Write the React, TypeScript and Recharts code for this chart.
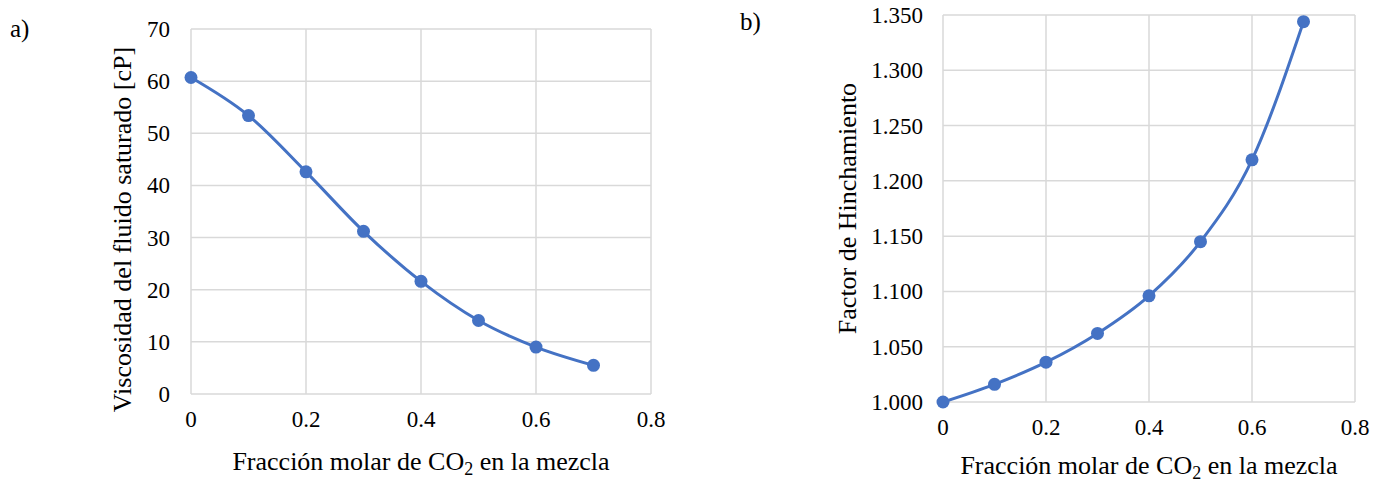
import { LineChart, Line, XAxis, YAxis, CartesianGrid } from 'recharts';

const fraccion = [0, 0.1, 0.2, 0.3, 0.4, 0.5, 0.6, 0.7];
const viscosidad = [60.7, 53.4, 42.6, 31.2, 21.6, 14.1, 9.0, 5.5];
const hinchamiento = [1.0, 1.016, 1.036, 1.062, 1.096, 1.145, 1.219, 1.344];

const xTicks = [0, 0.2, 0.4, 0.6, 0.8];
const viscTicks = [0, 10, 20, 30, 40, 50, 60, 70];
const hinchTicks = [1.0, 1.05, 1.1, 1.15, 1.2, 1.25, 1.3, 1.35];

const viscData = fraccion.map((x, i) => ({ x, y: viscosidad[i] }));
const hinchData = fraccion.map((x, i) => ({ x, y: hinchamiento[i] }));

const FONT = '"Liberation Serif", "Times New Roman", serif';
const BLUE = '#4472C4';

// custom ticks so the serif font actually sticks
function XTick({ x, y, payload }: any) {
  return (
    <text x={x} y={y} dy={17} textAnchor="middle" fontSize={23} fontFamily={FONT} fill="#000">
      {String(payload.value)}
    </text>
  );
}

function YTick({ x, y, payload, digits }: any) {
  const label = digits ? Number(payload.value).toFixed(digits) : String(payload.value);
  return (
    <text x={x} y={y} dy={8} textAnchor="end" fontSize={23} fontFamily={FONT} fill="#000">
      {label}
    </text>
  );
}

function XTitle({ viewBox, dy }: any) {
  const cx = viewBox.x + viewBox.width / 2;
  return (
    <text x={cx} y={viewBox.y + dy} textAnchor="middle" fontSize={26} fontFamily={FONT} fill="#000">
      Fracción molar de CO
      <tspan dy={5} fontSize={18}>2</tspan>
      <tspan dy={-5}> en la mezcla</tspan>
    </text>
  );
}

function YTitle({ viewBox, text, bx, shift }: any) {
  const cy = viewBox.y + viewBox.height / 2 + shift;
  return (
    <text
      x={bx}
      y={cy}
      textAnchor="middle"
      fontSize={26}
      fontFamily={FONT}
      fill="#000"
      transform={`rotate(-90, ${bx}, ${cy})`}
    >
      {text}
    </text>
  );
}

export default function App() {
  return (
    <div style={{ position: 'absolute', left: 0, top: 0, width: 1383, height: 482, background: '#fff', fontFamily: FONT }}>
      <span style={{ position: 'absolute', left: 10, top: 14, fontSize: 25, lineHeight: '30px' }}>a)</span>
      <span style={{ position: 'absolute', left: 740, top: 7, fontSize: 25, lineHeight: '30px' }}>b)</span>

      <div style={{ position: 'absolute', left: 0, top: 0 }}>
        <LineChart width={700} height={482} data={viscData} margin={{ top: 29, right: 49, bottom: 0, left: 0 }}>
          <CartesianGrid stroke="#d9d9d9" strokeWidth={1.5} />
          <XAxis
            dataKey="x"
            type="number"
            domain={[0, 0.8]}
            ticks={xTicks}
            axisLine={false}
            tickLine={false}
            tickMargin={10}
            height={88}
            tick={<XTick />}
            label={<XTitle dy={76} />}
          />
          <YAxis
            type="number"
            domain={[0, 70]}
            ticks={viscTicks}
            axisLine={false}
            tickLine={false}
            tickMargin={15}
            width={191}
            tick={<YTick />}
            label={<YTitle text="Viscosidad del fluido saturado [cP]" bx={131} shift={18} />}
          />
          <Line
            type="monotone"
            dataKey="y"
            stroke={BLUE}
            strokeWidth={3}
            dot={{ r: 6.5, fill: BLUE, stroke: BLUE, strokeWidth: 0 }}
            isAnimationActive={false}
          />
        </LineChart>
      </div>

      <div style={{ position: 'absolute', left: 700, top: 0 }}>
        <LineChart width={683} height={482} data={hinchData} margin={{ top: 15, right: 28, bottom: 0, left: 0 }}>
          <CartesianGrid stroke="#d9d9d9" strokeWidth={1.5} />
          <XAxis
            dataKey="x"
            type="number"
            domain={[0, 0.8]}
            ticks={xTicks}
            axisLine={false}
            tickLine={false}
            tickMargin={10}
            height={80}
            tick={<XTick />}
            label={<XTitle dy={72} />}
          />
          <YAxis
            type="number"
            domain={[1.0, 1.35]}
            ticks={hinchTicks}
            axisLine={false}
            tickLine={false}
            tickMargin={14}
            width={243}
            tick={<YTick digits={3} />}
            label={<YTitle text="Factor de Hinchamiento" bx={156} shift={0} />}
          />
          <Line
            type="monotone"
            dataKey="y"
            stroke={BLUE}
            strokeWidth={3}
            dot={{ r: 6.5, fill: BLUE, stroke: BLUE, strokeWidth: 0 }}
            isAnimationActive={false}
          />
        </LineChart>
      </div>
    </div>
  );
}
